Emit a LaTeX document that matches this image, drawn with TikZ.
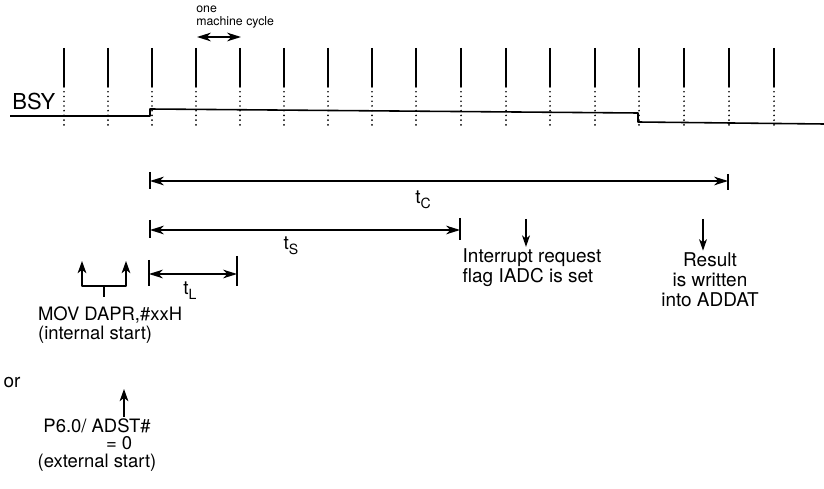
\documentclass[tikz,border=0pt]{standalone}
\usepackage{fontspec}
\setmainfont{TeX Gyre Heros}
\usetikzlibrary{arrows.meta}
\newcommand{\tsub}[1]{t\raisebox{-0.5ex}{\fontsize{8}{8}\selectfont #1}}

\begin{document}
\begin{tikzpicture}[x=0.02cm,y=-0.02cm,line join=round,
  clk/.style={line width=1.2pt},
  clkdot/.style={line width=1.1pt,line cap=round,dash pattern=on 0pt off 2.7pt},
  dim/.style={line width=0.65pt},
  dimarr/.style={dim,{Stealth[length=8pt,width=5pt,inset=2.5pt]}-{Stealth[length=8pt,width=5pt,inset=2.5pt]}},
  uparr/.style={line width=0.8pt,-{Stealth[length=7pt,width=5pt,inset=2pt]}},
  lbl/.style={font=\fontsize{10.8}{11.5}\selectfont,inner sep=1pt}]
\useasboundingbox (0,0) rectangle (824,489);
% clock ticks (solid above, dotted below)
\draw[clk] (64,48) -- (64,87);   \draw[clkdot] (64,87) -- (64,128);
\draw[clk] (108,48) -- (108,87); \draw[clkdot] (108,87) -- (108,128);
\draw[clk] (152,48) -- (152,87); \draw[clkdot] (152,87) -- (152,128);
\draw[clk] (196,48) -- (196,87); \draw[clkdot] (196,87) -- (196,128);
\draw[clk] (240,48) -- (240,87); \draw[clkdot] (240,87) -- (240,128);
\draw[clk] (284,48) -- (284,87); \draw[clkdot] (284,87) -- (284,128);
\draw[clk] (328,48) -- (328,87); \draw[clkdot] (328,87) -- (328,128);
\draw[clk] (372,48) -- (372,87); \draw[clkdot] (372,87) -- (372,128);
\draw[clk] (416,48) -- (416,87); \draw[clkdot] (416,87) -- (416,128);
\draw[clk] (461,48) -- (461,87); \draw[clkdot] (461,87) -- (461,128);
\draw[clk] (506,48) -- (506,87); \draw[clkdot] (506,87) -- (506,128);
\draw[clk] (550,48) -- (550,87); \draw[clkdot] (550,87) -- (550,128);
\draw[clk] (595,48) -- (595,87); \draw[clkdot] (595,87) -- (595,128);
\draw[clk] (639,48) -- (639,87); \draw[clkdot] (639,87) -- (639,128);
\draw[clk] (684,48) -- (684,87); \draw[clkdot] (684,87) -- (684,128);
\draw[clk] (729,48) -- (729,87); \draw[clkdot] (729,87) -- (729,128);
\draw[clk] (774,48) -- (774,87); \draw[clkdot] (774,87) -- (774,128);
% one machine cycle
\node[font=\fontsize{7}{7.6}\selectfont,align=left,anchor=west,inner sep=0pt] (cyc) at (196,17) {one\\machine cycle};
\coordinate (cycA) at (197,37);
\coordinate (cycB) at (241,37);
\draw[dimarr,line width=0.8pt] (cycA) -- (cycB);
% BSY signal
\node[font=\fontsize{12.5}{14}\selectfont,anchor=base west,inner sep=0pt] (bsy) at (12,110) {BSY};
\draw[line width=0.9pt] (10,116) -- (150,116) -- (150,109) -- (638,113) -- (638,122) -- (824,124);
% t_C
\draw[dim] (150,172) -- (150,189);
\draw[dim] (728,174) -- (728,190);
\coordinate (tcA) at (150,181);
\coordinate (tcB) at (728,181);
\draw[dimarr] (tcA) -- (tcB);
\node[lbl] (tc) at (423,200) {\tsub{C}};
% t_S
\draw[dim] (150,220) -- (150,238);
\draw[dim] (460,218) -- (460,240);
\coordinate (tsA) at (150,230);
\coordinate (tsB) at (460,230);
\draw[dimarr] (tsA) -- (tsB);
\node[lbl] (ts) at (291,246) {\tsub{S}};
% t_L
\draw[dim] (149,260) -- (149,286);
\draw[dim] (237,256) -- (237,286);
\coordinate (tlA) at (149,274);
\coordinate (tlB) at (237,274);
\draw[dimarr] (tlA) -- (tlB);
\node[lbl] (tl) at (190,291) {\tsub{L}};
% events
\node[lbl,align=left] (irq) at (532,268) {Interrupt request\\flag IADC is set};
\coordinate (irqT) at (526,219);
\draw[uparr,line width=0.7pt,-{Stealth[length=6.5pt,width=4.5pt,inset=1.8pt]}] (irqT) -- (irqT |- irq.north);
\node[lbl,align=center] (res) at (710,280) {Result\\is written\\into ADDAT};
\coordinate (resT) at (703,219);
\draw[uparr,line width=0.7pt,-{Stealth[length=6.5pt,width=4.5pt,inset=1.8pt]}] (resT) -- (resT |- res.north);
% internal start
\coordinate (movL) at (82,261);
\coordinate (movR) at (126,261);
\draw[uparr,{Stealth[length=7pt,width=5pt,inset=2pt]}-{Stealth[length=7pt,width=5pt,inset=2pt]}] (movL) -- (82,286) -- (126,286) -- (movR);
\node[lbl,align=left,anchor=west,font=\fontsize{10.5}{11}\selectfont] (mov) at (36,325) {MOV DAPR,\#xxH\\(internal start)};
\draw[line width=0.8pt] (104,286) -- (104,297);
\node[lbl] (or) at (12,383) {or};
% external start
\node[lbl,align=center,font=\fontsize{10.5}{9.8}\selectfont] (ext) at (97,445) {P6.0/ ADST\#\\\hspace*{2.4em}= 0\\(external start)};
\coordinate (extT) at (124,389);
\draw[uparr] (extT |- ext.north) -- (extT);
\end{tikzpicture}
\end{document}
